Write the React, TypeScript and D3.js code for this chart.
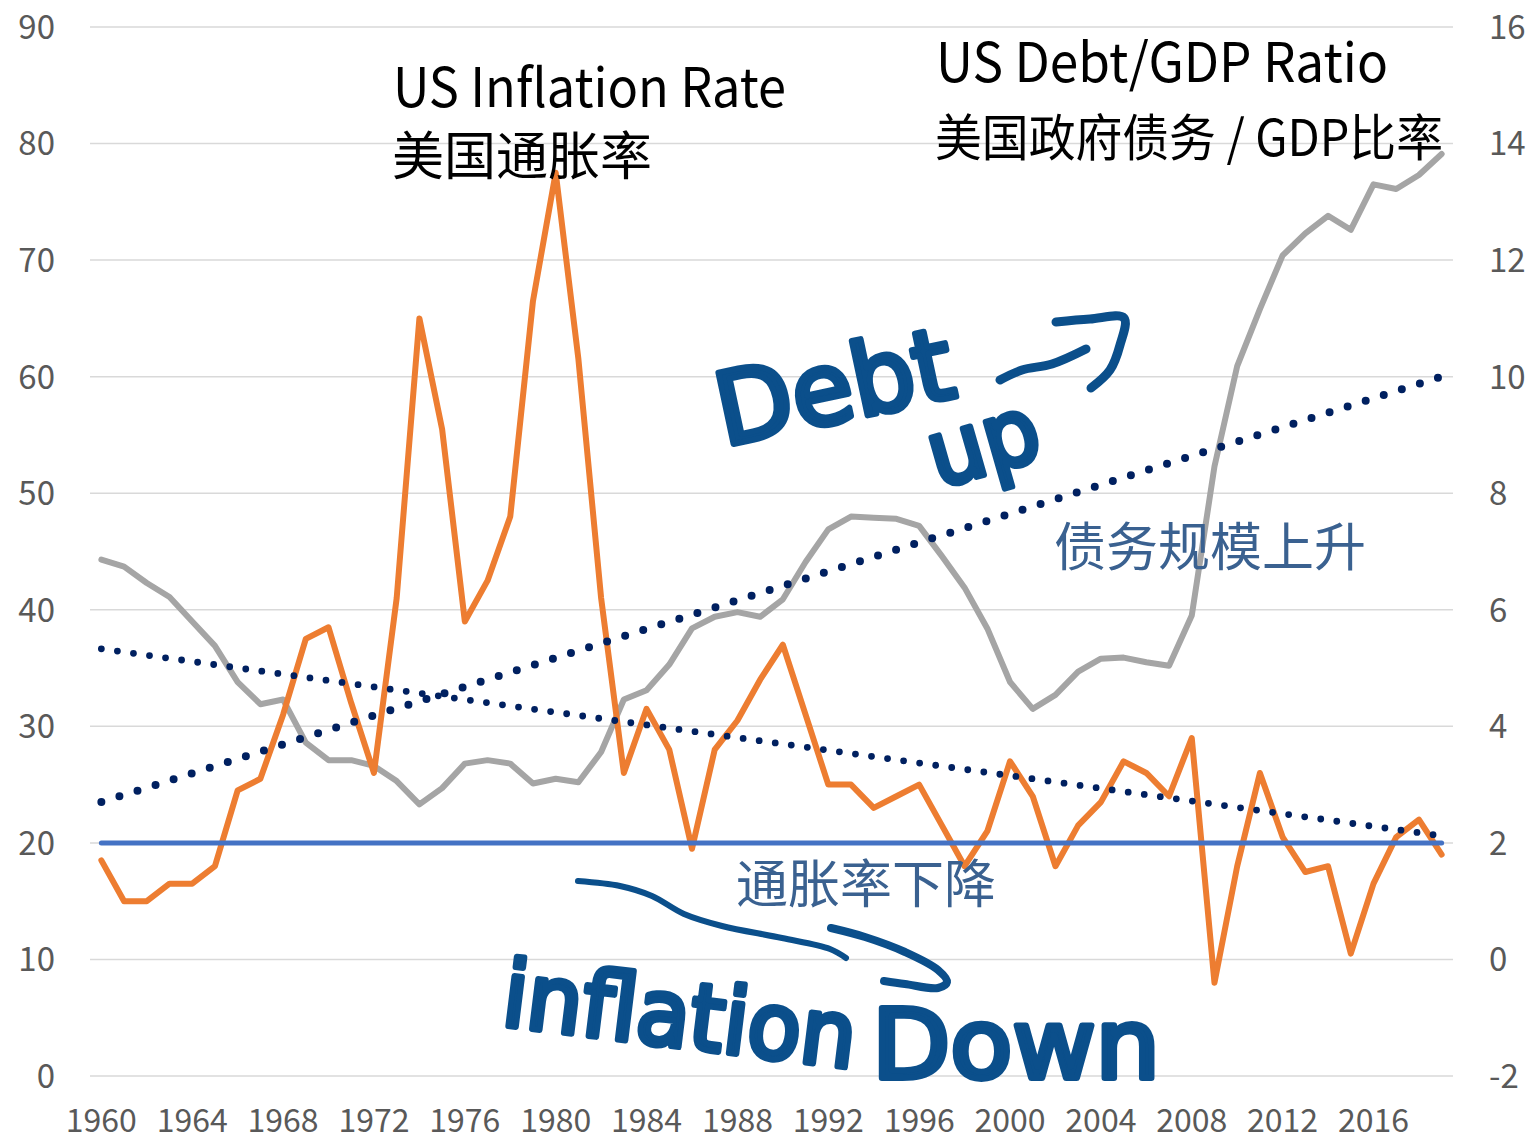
import React from "react";
import * as d3 from "d3";

const years: number[] = d3.range(1960, 2020);

// US federal debt held by public, % of GDP (left axis)
const debtGdp: number[] = [
  44.3, 43.7, 42.3, 41.1, 39.0, 36.9, 33.8, 31.9, 32.3, 28.6,
  27.1, 27.1, 26.6, 25.3, 23.3, 24.7, 26.8, 27.1, 26.8, 25.1,
  25.5, 25.2, 27.8, 32.3, 33.1, 35.3, 38.4, 39.4, 39.8, 39.4,
  40.9, 44.1, 46.9, 48.0, 47.9, 47.8, 47.2, 44.6, 41.9, 38.4,
  33.8, 31.5, 32.7, 34.7, 35.8, 35.9, 35.5, 35.2, 39.5, 52.3,
  60.9, 65.8, 70.4, 72.3, 73.8, 72.6, 76.5, 76.1, 77.3, 79.1,
];

// US CPI inflation, % (right axis)
const inflation: number[] = [
  1.7, 1.0, 1.0, 1.3, 1.3, 1.6, 2.9, 3.1, 4.2, 5.5,
  5.7, 4.4, 3.2, 6.2, 11.0, 9.1, 5.8, 6.5, 7.6, 11.3,
  13.5, 10.3, 6.2, 3.2, 4.3, 3.6, 1.9, 3.6, 4.1, 4.8,
  5.4, 4.2, 3.0, 3.0, 2.6, 2.8, 3.0, 2.3, 1.6, 2.2,
  3.4, 2.8, 1.6, 2.3, 2.7, 3.4, 3.2, 2.8, 3.8, -0.4,
  1.6, 3.2, 2.1, 1.5, 1.6, 0.1, 1.3, 2.1, 2.4, 1.8,
];

// Linear trendlines (endpoints)
const trendYears: number[] = [1960, 2019];
const debtTrend: number[] = [23.5, 60.0];
const inflTrend: number[] = [5.33, 2.12];

// reference level line (left axis)
const refLevel = 20;

const leftTicks: number[] = [0, 10, 20, 30, 40, 50, 60, 70, 80, 90];
const rightTicks: number[] = [-2, 0, 2, 4, 6, 8, 10, 12, 14, 16];
const xTickYears: number[] = years.filter((y) => (y - 1960) % 4 === 0);

const W = 1531;
const H = 1140;
const FONT = "'Noto Sans CJK SC', 'Noto Sans', sans-serif";
const INK = "#0b4f8b";
const LABEL_BLUE = "#3a6190";

// hand-drawn arrow strokes (decorative annotation)
const arrowDebtShaft: [number, number][] = [
  [1000, 380], [1022, 370], [1052, 364], [1086, 349],
];
const arrowDebtHead: [number, number][] = [
  [1056, 322], [1090, 319], [1124, 318], [1120, 345], [1110, 370], [1091, 388],
];
const arrowInflShaft: [number, number][] = [
  [578, 881], [620, 886], [652, 896], [684, 914], [722, 926], [782, 938], [830, 949], [846, 958],
];
const arrowInflHead: [number, number][] = [
  [831, 928], [865, 937], [905, 952], [938, 970], [947, 982], [938, 988], [905, 984], [884, 981],
];

export default function App() {
  const x = d3.scaleBand<number>().domain(years).range([90, 1453]).padding(0);
  const cx = (yr: number) => (x(yr) as number) + x.bandwidth() / 2;
  const yL = d3.scaleLinear().domain([0, 90]).range([1076, 27]);
  const yR = d3.scaleLinear().domain([-2, 16]).range([1076, 27]);

  const debtLine = d3
    .line<number>()
    .x((_, i) => cx(years[i]))
    .y((d) => yL(d));
  const inflLine = d3
    .line<number>()
    .x((_, i) => cx(years[i]))
    .y((d) => yR(d));
  const debtTrendLine = d3
    .line<number>()
    .x((_, i) => cx(trendYears[i]))
    .y((d) => yL(d));
  const inflTrendLine = d3
    .line<number>()
    .x((_, i) => cx(trendYears[i]))
    .y((d) => yR(d));
  const hand = d3.line().curve(d3.curveCatmullRom.alpha(0.5));

  const xs = cx(years[0]);
  const xe = cx(years[years.length - 1]);

  return (
    <svg
      width={W}
      height={H}
      style={{ position: "absolute", left: 0, top: 0, background: "#fff" }}
      fontFamily={FONT}
    >
      <rect x={0} y={0} width={W} height={H} fill="#fff" />
      {/* gridlines */}
      {leftTicks.map((t) => (
        <line
          key={"g" + t}
          x1={90}
          x2={1453}
          y1={yL(t)}
          y2={yL(t)}
          stroke="#d9d9d9"
          strokeWidth={1.5}
        />
      ))}
      {/* left tick labels */}
      {leftTicks.map((t) => (
        <text
          key={"l" + t}
          x={55}
          y={yL(t)}
          dy="0.36em"
          textAnchor="end"
          fontSize={33}
          fill="#595959"
        >
          {t}
        </text>
      ))}
      {/* right tick labels */}
      {rightTicks.map((t) => (
        <text
          key={"r" + t}
          x={1489}
          y={yR(t)}
          dy="0.36em"
          textAnchor="start"
          fontSize={33}
          fill="#595959"
        >
          {t}
        </text>
      ))}
      {/* x tick labels */}
      {xTickYears.map((yr) => (
        <text
          key={"x" + yr}
          x={cx(yr)}
          y={1132}
          textAnchor="middle"
          fontSize={32}
          fill="#595959"
        >
          {yr}
        </text>
      ))}

      {/* debt / GDP */}
      <path
        d={debtLine(debtGdp) as string}
        fill="none"
        stroke="#a5a5a5"
        strokeWidth={6}
        strokeLinejoin="round"
        strokeLinecap="round"
      />
      {/* inflation */}
      <path
        d={inflLine(inflation) as string}
        fill="none"
        stroke="#ed7d31"
        strokeWidth={6}
        strokeLinejoin="round"
        strokeLinecap="round"
      />
      {/* reference line */}
      <line
        x1={xs}
        x2={xe}
        y1={yL(refLevel)}
        y2={yL(refLevel)}
        stroke="#4472c4"
        strokeWidth={5}
        strokeLinecap="round"
      />
      {/* trendlines */}
      <path
        d={debtTrendLine(debtTrend) as string}
        fill="none"
        stroke="#002060"
        strokeWidth={8}
        strokeLinecap="round"
        strokeDasharray="0 18.95"
      />
      <path
        d={inflTrendLine(inflTrend) as string}
        fill="none"
        stroke="#002060"
        strokeWidth={6.8}
        strokeLinecap="round"
        strokeDasharray="0 16.2"
      />

      {/* titles */}
      <text x={393} y={107} fontSize={54} fill="#000" textLength={393} lengthAdjust="spacingAndGlyphs">
        US Inflation Rate
      </text>
      <text x={392} y={175} fontSize={52} fill="#000">
        美国通胀率
      </text>
      <text x={936} y={82} fontSize={54} fill="#000" textLength={452} lengthAdjust="spacingAndGlyphs">
        US Debt/GDP Ratio
      </text>
      <text x={935} y={156} fontSize={50} fill="#000" textLength={508} lengthAdjust="spacingAndGlyphs">
        美国政府债务 / GDP比率
      </text>
      <text x={1054} y={566} fontSize={52} fill={LABEL_BLUE}>
        债务规模上升
      </text>
      <text x={736} y={903} fontSize={52} fill={LABEL_BLUE}>
        通胀率下降
      </text>

      {/* handwriting annotations */}
      <g fill={INK} stroke={INK} strokeWidth={6} strokeLinejoin="round" fontFamily="'DejaVu Sans', sans-serif" fontWeight="normal">
        <text x={724} y={446} fontSize={100} textLength={240} lengthAdjust="spacingAndGlyphs" transform="rotate(-12 724 446)">
          Debt
        </text>
        <text x={938} y={488} fontSize={92} textLength={112} lengthAdjust="spacingAndGlyphs" transform="rotate(-16 938 488)">
          up
        </text>
        <text x={500} y={1025} fontSize={92} textLength={355} lengthAdjust="spacingAndGlyphs" transform="rotate(7 500 1025)">
          inflation
        </text>
        <text x={872} y={1078} fontSize={96} textLength={288} lengthAdjust="spacingAndGlyphs">
          Down
        </text>
      </g>
      <g fill="none" stroke={INK} strokeWidth={9} strokeLinecap="round" strokeLinejoin="round">
        <path d={hand(arrowDebtShaft) as string} />
        <path d={hand(arrowDebtHead) as string} />
        <path d={hand(arrowInflShaft) as string} strokeWidth={6} />
        <path d={hand(arrowInflHead) as string} strokeWidth={8} />
      </g>
    </svg>
  );
}
